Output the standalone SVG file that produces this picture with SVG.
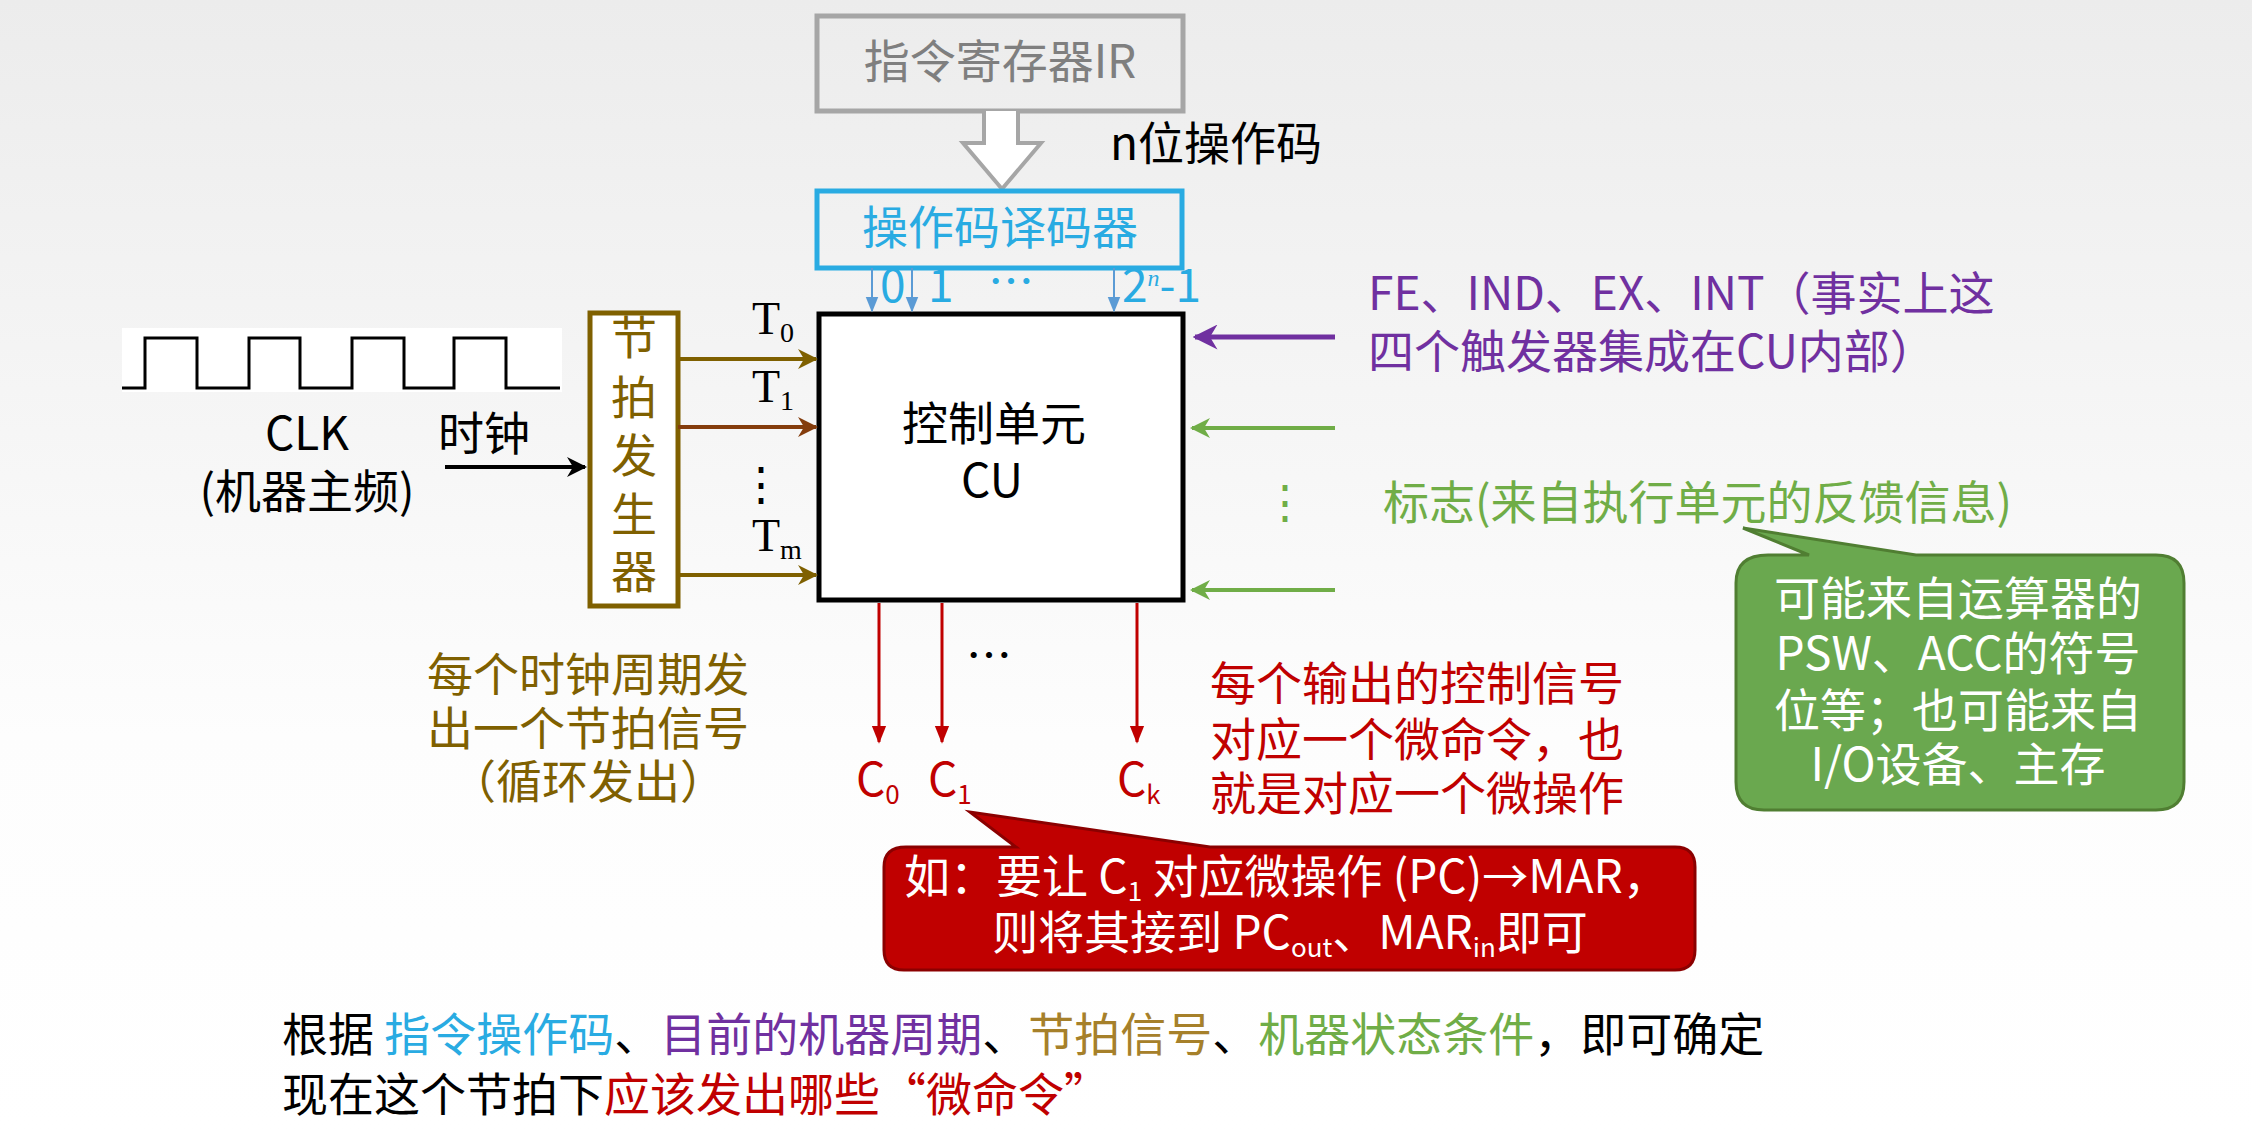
<svg xmlns="http://www.w3.org/2000/svg" width="2252" height="1131" viewBox="0 0 2252 1131">
<defs>
<linearGradient id="bg" x1="0" y1="0" x2="0" y2="1"><stop offset="0" stop-color="#ececec"/><stop offset="0.65" stop-color="#fdfdfd"/><stop offset="1" stop-color="#ffffff"/></linearGradient>
<marker id="ab" viewBox="0 0 10 10" refX="9" refY="5" markerWidth="5" markerHeight="5" orient="auto"><path d="M0,0L10,5L0,10L3,5z" fill="#000"/></marker>
<marker id="ao" viewBox="0 0 10 10" refX="9" refY="5" markerWidth="5" markerHeight="5" orient="auto"><path d="M0,0L10,5L0,10L3,5z" fill="#7F6000"/></marker>
<marker id="ar" viewBox="0 0 10 10" refX="9" refY="5" markerWidth="5" markerHeight="5" orient="auto"><path d="M0,0L10,5L0,10L3,5z" fill="#843C0C"/></marker>
<marker id="ap" viewBox="0 0 10 10" refX="9" refY="5" markerWidth="5" markerHeight="5" orient="auto"><path d="M0,0L10,5L0,10L3,5z" fill="#7030A0"/></marker>
<marker id="ag" viewBox="0 0 10 10" refX="9" refY="5" markerWidth="5" markerHeight="5" orient="auto"><path d="M0,0L10,5L0,10L3,5z" fill="#70AD47"/></marker>
<marker id="ac" viewBox="0 0 10 10" refX="9" refY="5" markerWidth="6" markerHeight="8" orient="auto"><path d="M0,1L10,5L0,9z" fill="#C00000"/></marker>
<marker id="abl" viewBox="0 0 10 10" refX="9" refY="5" markerWidth="8" markerHeight="8" orient="auto"><path d="M0,1L10,5L0,9z" fill="#5B9BD5"/></marker>
</defs>
<style>
text{font-family:"Noto Sans CJK SC","Liberation Sans",sans-serif;font-size:46px}
.s{font-family:"Liberation Serif",serif}
.w{fill:#fff}
</style>
<rect width="2252" height="1131" fill="url(#bg)"/>

<g id="ir">
<rect x="817" y="16" width="366" height="95" fill="none" stroke="#a6a6a6" stroke-width="5"/>
<text x="1000" y="78" text-anchor="middle" fill="#7f7f7f">指令寄存器IR</text>
</g>
<g id="bus">
<path d="M984,111V143H963L1002,189L1041,143H1018V111" fill="#fff" stroke="#a6a6a6" stroke-width="4"/>
<text x="1110" y="160">n位操作码</text>
</g>
<g id="decoder">
<rect x="817" y="191" width="365" height="77" fill="none" stroke="#29ABE2" stroke-width="5"/>
<text x="1000" y="244" text-anchor="middle" fill="#29ABE2">操作码译码器</text>
<text x="880" y="302" fill="#29ABE2" font-size="36">0</text>
<text x="928" y="302" fill="#29ABE2" font-size="36">1</text>
<text x="988" y="298" fill="#29ABE2" font-size="30" font-family="Liberation Sans">…</text>
<text x="1122" y="302" fill="#29ABE2" font-size="36">2<tspan class="s" font-style="italic" font-size="24" dy="-16">n</tspan><tspan dy="16">-1</tspan></text>
</g>
<g id="cu">
<rect x="819" y="314" width="364" height="286" fill="#fff" stroke="#000" stroke-width="5"/>
<text x="994" y="440" text-anchor="middle">控制单元</text>
<text x="992" y="497" text-anchor="middle">CU</text>
</g>
<g id="clk">
<rect x="122" y="328" width="440" height="64" fill="#fff"/>
<path d="M122,388H145V338H197V388H249V338H300V388H352V338H404V388H454V338H506V388H560" fill="none" stroke="#000" stroke-width="3"/>
<text x="307" y="450" text-anchor="middle">CLK</text>
<text x="307" y="508" text-anchor="middle">(机器主频)</text>
<text x="438" y="450">时钟</text>
</g>
<g id="beat">
<rect x="590" y="313" width="88" height="293" fill="#fff" stroke="#7F6000" stroke-width="5"/>
<g fill="#7F6000" text-anchor="middle">
<text x="634" y="354" font-size="40">节</text><text x="634" y="414" font-size="40">拍</text><text x="634" y="472" font-size="40">发</text><text x="634" y="531" font-size="40">生</text><text x="634" y="588" font-size="40">器</text>
</g>
</g>
<g id="connectors">
<line x1="445" y1="467" x2="585" y2="467" stroke="#000" stroke-width="4" marker-end="url(#ab)"/>
<line x1="678" y1="359" x2="816" y2="359" stroke="#7F6000" stroke-width="4" marker-end="url(#ao)"/>
<line x1="678" y1="427" x2="816" y2="427" stroke="#843C0C" stroke-width="4" marker-end="url(#ar)"/>
<line x1="678" y1="575" x2="816" y2="575" stroke="#7F6000" stroke-width="4" marker-end="url(#ao)"/>
<line x1="872" y1="268" x2="872" y2="311" stroke="#5B9BD5" stroke-width="2" marker-end="url(#abl)"/>
<line x1="912" y1="268" x2="912" y2="311" stroke="#5B9BD5" stroke-width="2" marker-end="url(#abl)"/>
<line x1="1114" y1="268" x2="1114" y2="311" stroke="#5B9BD5" stroke-width="2" marker-end="url(#abl)"/>
<line x1="1335" y1="337" x2="1195" y2="337" stroke="#7030A0" stroke-width="5" marker-end="url(#ap)"/>
<line x1="1335" y1="428" x2="1192" y2="428" stroke="#70AD47" stroke-width="4" marker-end="url(#ag)"/>
<line x1="1335" y1="590" x2="1192" y2="590" stroke="#70AD47" stroke-width="4" marker-end="url(#ag)"/>
<line x1="879" y1="603" x2="879" y2="742" stroke="#C00000" stroke-width="3" marker-end="url(#ac)"/>
<line x1="942" y1="603" x2="942" y2="742" stroke="#C00000" stroke-width="3" marker-end="url(#ac)"/>
<line x1="1137" y1="603" x2="1137" y2="742" stroke="#C00000" stroke-width="3" marker-end="url(#ac)"/>
</g>
<g id="tlabels">
<text x="752" y="334" class="s" font-size="40">T<tspan font-size="28" dy="8">0</tspan></text>
<text x="752" y="402" class="s" font-size="40">T<tspan font-size="28" dy="8">1</tspan></text>
<text x="738" y="500" class="s" font-size="32">⋮</text>
<text x="752" y="551" class="s" font-size="40">T<tspan font-size="28" dy="8">m</tspan></text>
<text x="1262" y="518" fill="#70AD47" font-size="32">⋮</text>
<text x="966" y="672" font-size="30" font-family="Liberation Sans">…</text>
</g>
<g id="clabels" fill="#C00000">
<text x="856" y="796" font-size="38">C<tspan font-size="26" dy="8">0</tspan></text>
<text x="928" y="796" font-size="38">C<tspan font-size="26" dy="8">1</tspan></text>
<text x="1117" y="796" font-size="38">C<tspan font-size="26" dy="8">k</tspan></text>
</g>
<g id="purple" fill="#7030A0">
<text x="1368" y="310">FE、IND、EX、INT（事实上这</text>
<text x="1368" y="368">四个触发器集成在CU内部）</text>
</g>
<g id="flags"><text x="1383" y="519" fill="#70AD47">标志(来自执行单元的反馈信息)</text></g>
<g id="greencallout">
<path d="M1768,555H1809L1743,528L1916,555H2156Q2184,555 2184,583V782Q2184,810 2156,810H1764Q1736,810 1736,782V583Q1736,555 1768,555Z" fill="#6AA84F" stroke="#507E32" stroke-width="3"/>
<g class="w" text-anchor="middle">
<text x="1958" y="615">可能来自运算器的</text>
<text x="1958" y="670">PSW、ACC的符号</text>
<text x="1958" y="727">位等；也可能来自</text>
<text x="1958" y="781">I/O设备、主存</text>
</g>
</g>
<g id="beatnote" fill="#7F6000" text-anchor="middle">
<text x="588" y="691">每个时钟周期发</text>
<text x="588" y="745">出一个节拍信号</text>
<text x="588" y="798">（循环发出）</text>
</g>
<g id="signote" fill="#C00000">
<text x="1210" y="700">每个输出的控制信号</text>
<text x="1210" y="756">对应一个微命令，也</text>
<text x="1210" y="810">就是对应一个微操作</text>
</g>
<g id="redcallout">
<path d="M906,847H1016L970,812L1210,847H1675Q1695,847 1695,867V950Q1695,970 1675,970H904Q884,970 884,950V867Q884,847 906,847Z" fill="#C00000" stroke="#8B0000" stroke-width="3"/>
<text x="904" y="893" class="w" font-size="41">如：要让 C<tspan font-size="26" dy="8">1</tspan><tspan dy="-8"> 对应微操作 (PC)→MAR，</tspan></text>
<text x="1290" y="949" class="w" font-size="41" text-anchor="middle">则将其接到 PC<tspan font-size="26" dy="8">out</tspan><tspan dy="-8">、MAR</tspan><tspan font-size="26" dy="8">in</tspan><tspan dy="-8">即可</tspan></text>
</g>
<g id="summary">
<text x="282" y="1051" font-size="48">根据 <tspan fill="#29ABE2">指令操作码</tspan>、<tspan fill="#7030A0">目前的机器周期</tspan>、<tspan fill="#A6802A">节拍信号</tspan>、<tspan fill="#70AD47">机器状态条件</tspan>，即可确定</text>
<text x="282" y="1111" font-size="48">现在这个节拍下<tspan fill="#C00000">应该发出哪些“微命令”</tspan></text>
</g>
</svg>
